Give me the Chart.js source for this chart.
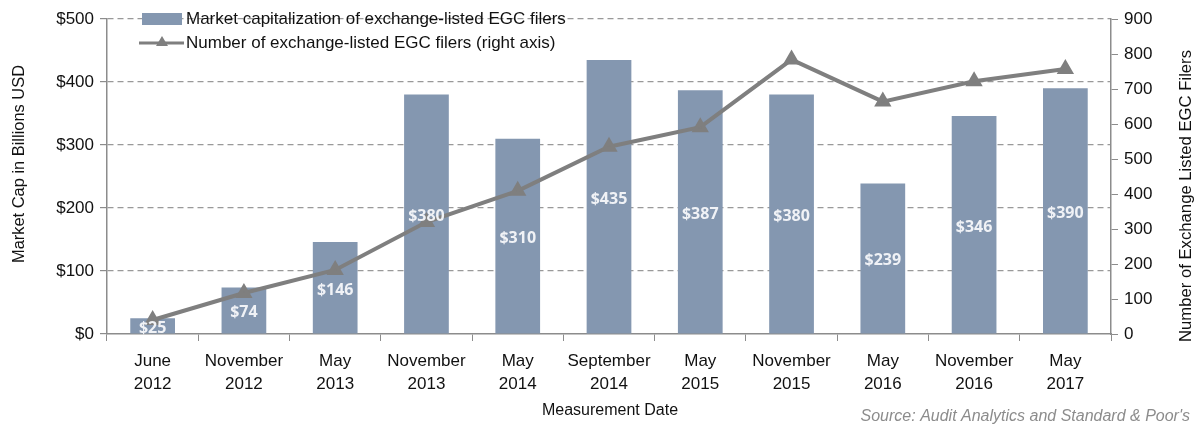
<!DOCTYPE html>
<html><head><meta charset="utf-8">
<script src="https://cdn.jsdelivr.net/npm/chart.js@4/dist/chart.umd.min.js"></script>
<style>html,body{margin:0;padding:0;background:#fff}#wrap{width:1203px;height:427px;position:relative}</style>
</head><body><div id="wrap"><canvas id="c" width="1203" height="427"></canvas></div>
<script>
const categories = [['June','2012'],['November','2012'],['May','2013'],['November','2013'],['May','2014'],['September','2014'],['May','2015'],['November','2015'],['May','2016'],['November','2016'],['May','2017']];
const marketCap = [25,74,146,380,310,435,387,380,239,346,390];
const filers = [40,117,183,320,409,535,591,784,664,722,757];
const barLabel = 'Market capitalization of exchange-listed EGC filers';
const lineLabel = 'Number of exchange-listed EGC filers (right axis)';
const leftTitle = 'Market Cap in Billions USD';
const rightTitle = 'Number of Exchange Listed EGC Filers';
const xTitle = 'Measurement Date';
const sourceText = "Source: Audit Analytics and Standard & Poor's";

const FONT = "'Liberation Sans', Arial, sans-serif";
const BAR = '#8497B0';
const LINE = '#7F7F7F';

function vText(ctx, text, x, y, len){
  ctx.save();
  ctx.translate(x,y); ctx.rotate(-Math.PI/2);
  const w=ctx.measureText(text).width;
  ctx.scale(len/w,1);
  ctx.fillText(text,0,0);
  ctx.restore();
}

const extras = {
  id:'extras',
  afterDatasetsDraw(chart){
    const ctx=chart.ctx, meta=chart.getDatasetMeta(1), ys=chart.scales.y;
    ctx.save();
    ctx.font="bold 16px 'Open Sans', sans-serif";
    ctx.fillStyle='#F0F2F6';
    ctx.textAlign='center'; ctx.textBaseline='middle';
    meta.data.forEach((b,i)=>{
      const mid=(b.y+ys.getPixelForValue(0))/2;
      ctx.fillText('$'+marketCap[i], b.x, mid+2);
    });
    ctx.restore();
  },
  afterDraw(chart){
    const ctx=chart.ctx;
    ctx.save();
    // legend
    ctx.fillStyle=BAR; ctx.fillRect(142,13,40,12);
    ctx.strokeStyle=LINE; ctx.lineWidth=3;
    ctx.beginPath(); ctx.moveTo(139,43); ctx.lineTo(184,43); ctx.stroke();
    ctx.fillStyle=LINE; ctx.beginPath(); ctx.moveTo(162,36); ctx.lineTo(168,46); ctx.lineTo(156,46); ctx.closePath(); ctx.fill();
    ctx.fillStyle='#111'; ctx.font='17px '+FONT; ctx.textBaseline='middle'; ctx.textAlign='left';
    ctx.fillText(barLabel,186,19);
    ctx.fillText(lineLabel,186,43);
    // axis titles
    ctx.textAlign='center'; ctx.font='16px '+FONT;
    vText(ctx,leftTitle,20,164,198);
    vText(ctx,rightTitle,1187,196,292);
    ctx.fillText(xTitle,610,411);
    // source
    ctx.font='italic 16px '+FONT; ctx.fillStyle='#8C8C8C'; ctx.textAlign='right';
    ctx.fillText(sourceText,1190,417);
    ctx.restore();
  }
};

new Chart(document.getElementById('c'),{
  data:{labels:categories,datasets:[
    {type:'line',label:lineLabel,data:filers,yAxisID:'y1',borderColor:LINE,backgroundColor:LINE,borderWidth:4,
     pointStyle:'triangle',pointRadius:6,pointHoverRadius:6,tension:0,order:0},
    {type:'bar',label:barLabel,data:marketCap,yAxisID:'y',backgroundColor:BAR,categoryPercentage:1,barPercentage:0.49,order:1}
  ]},
  options:{
    responsive:false,animation:false,
    layout:{padding:{top:19,left:0,right:0,bottom:0}},
    plugins:{legend:{display:false},tooltip:{enabled:false}},
    scales:{
      x:{offset:true,
        grid:{offset:true,drawOnChartArea:false,drawTicks:true,tickLength:7,color:'#8C8C8C'},
        border:{color:'#8C8C8C',width:1.5},
        ticks:{color:'#111',font:{family:FONT,size:17,lineHeight:1.4},padding:8,maxRotation:0,autoSkip:false},
        afterFit(s){s.height=93;}
      },
      y:{position:'left',min:0,max:500,
        ticks:{stepSize:100,color:'#111',font:{family:FONT,size:17},padding:6,callback:v=>'$'+v},
        grid:{color:c=>(c.tick&&(c.tick.value===0))?'rgba(0,0,0,0)':'#999',tickColor:'#8C8C8C',tickLength:7,lineWidth:1.2},
        border:{color:'#8C8C8C',width:1.5,dash:[6,4]},
        afterFit(s){s.width=107;}
      },
      y1:{position:'right',min:0,max:900,
        ticks:{stepSize:100,color:'#111',font:{family:FONT,size:17},padding:6},
        grid:{drawOnChartArea:false,tickLength:7,color:'#8C8C8C'},
        border:{color:'#8C8C8C',width:1.5},
        afterFit(s){s.width=92;}
      }
    }
  },
  plugins:[extras]
});
</script></body></html>
